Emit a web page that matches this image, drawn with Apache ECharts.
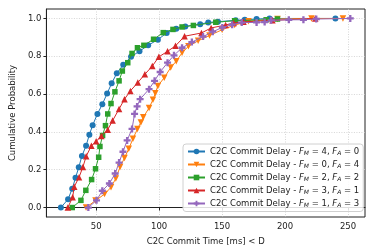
<!DOCTYPE html>
<html>
<head>
<meta charset="utf-8">
<script src="https://cdn.jsdelivr.net/npm/echarts@6/dist/echarts.min.js"></script>
<style>html,body{margin:0;padding:0;background:#fff;}#c{width:374px;height:251px;}</style>
</head>
<body>
<div id="c"></div>
<script>
// ---- data ----
const xTicks = [50, 100, 150, 200, 250];
const yTicks = [0, 0.2, 0.4, 0.6, 0.8, 1.0];

const seriesNames = [
  ['4', '0'],
  ['0', '4'],
  ['2', '2'],
  ['3', '1'],
  ['1', '3']
];

const blueX = [22, 27.7, 31, 33.6, 36.2, 38.7, 42, 44.6, 47.2, 51, 54.9, 58.7, 62.3, 66.4, 71.5, 77.7, 84.4, 91.3, 99, 106, 113.6, 120.8, 132.6, 139, 146.7, 160.8, 168, 177.4, 187.7, 240];
const blueY = [0, 0.044, 0.1, 0.157, 0.213, 0.273, 0.327, 0.385, 0.435, 0.495, 0.546, 0.603, 0.657, 0.71, 0.755, 0.797, 0.827, 0.858, 0.888, 0.923, 0.946, 0.958, 0.97, 0.979, 0.983, 0.99, 0.993, 0.997, 1.0, 1.0];

const orangeX = [42, 49.5, 56.7, 61.8, 65.6, 69, 72.5, 75.9, 79.2, 82.8, 85.5, 87.4, 92, 95.1, 97, 99, 104.1, 109.2, 113.6, 118.2, 123.3, 131, 140, 150, 160, 171, 194, 221, 246];
const orangeY = [0, 0.037, 0.071, 0.107, 0.154, 0.215, 0.262, 0.311, 0.364, 0.416, 0.45, 0.477, 0.527, 0.57, 0.605, 0.643, 0.687, 0.74, 0.774, 0.818, 0.853, 0.882, 0.91, 0.94, 0.965, 0.985, 0.997, 1.0, 1.0];

const greenX = [31, 37.9, 41.8, 46.4, 49.5, 52, 53, 55.1, 57.4, 59.2, 61.8, 64.9, 68.2, 70.8, 75.1, 78.5, 82.8, 87.9, 95.6, 103.3, 111, 118.2, 127.2, 145, 160, 185, 194];
const greenY = [0, 0.038, 0.091, 0.148, 0.205, 0.266, 0.323, 0.381, 0.433, 0.495, 0.55, 0.612, 0.67, 0.722, 0.766, 0.815, 0.845, 0.858, 0.89, 0.925, 0.942, 0.955, 0.963, 0.98, 0.988, 0.993, 0.997];

const redX = [27.5, 31.3, 32.6, 36.4, 39.5, 42.1, 46.2, 50, 54.1, 59.2, 63.1, 68.2, 72.5, 77.2, 83.1, 88.7, 94.6, 99.8, 106.7, 113, 120.2, 133.6, 141.3, 152.8, 159.2, 167, 190, 224];
const redY = [0, 0.054, 0.11, 0.16, 0.215, 0.271, 0.327, 0.35, 0.378, 0.412, 0.46, 0.521, 0.573, 0.617, 0.661, 0.705, 0.748, 0.797, 0.826, 0.855, 0.906, 0.923, 0.95, 0.965, 0.976, 0.982, 0.99, 1.0];

const purpleX = [43.8, 50.3, 54.9, 60.5, 65.1, 68.2, 71.3, 74.6, 78.5, 80.5, 82.5, 84.9, 92, 96.4, 100.8, 106.7, 111.8, 118.2, 126, 134.9, 142.6, 150.2, 158, 165.6, 177.4, 183.8, 189, 203, 214.6, 224.8, 251.8];
const purpleY = [0, 0.038, 0.089, 0.127, 0.18, 0.238, 0.295, 0.355, 0.416, 0.495, 0.535, 0.573, 0.626, 0.67, 0.717, 0.766, 0.805, 0.845, 0.875, 0.904, 0.93, 0.952, 0.967, 0.978, 0.979, 0.981, 0.99, 0.993, 0.993, 0.997, 1.0];

// ---- chart ----
const colors = ['#1f77b4', '#ff7f0e', '#2ca02c', '#d62728', '#9467bd'];
const plusPath = 'path://M-1,-3L1,-3L1,-1L3,-1L3,1L1,1L1,3L-1,3L-1,1L-3,1L-3,-1L-1,-1Z';
const symbols = ['circle', 'triangle', 'rect', 'triangle', plusPath];
const rotates = [0, 180, 0, 0, 0];
const sizes = [6, 6.5, 5.5, 6.5, 7];
const xs = [blueX, orangeX, greenX, redX, purpleX];
const ys = [blueY, orangeY, greenY, redY, purpleY];

function nameOf(i) {
  return 'C2C Commit Delay - F_M = ' + seriesNames[i][0] + ', F_A = ' + seriesNames[i][1];
}

const series = xs.map((xv, i) => ({
  name: nameOf(i),
  type: 'line',
  data: xv.map((x, k) => [x, ys[i][k]]),
  symbol: symbols[i],
  symbolRotate: rotates[i],
  symbolSize: sizes[i],
  showSymbol: true,
  clip: false,
  lineStyle: { width: 1, color: colors[i] },
  itemStyle: { color: colors[i] },
  z: 2 + i
}));

const font = 'DejaVu Sans';
const fs = 8.5;
const chart = echarts.init(document.getElementById('c'), null, { renderer: 'canvas' });
chart.setOption({
  animation: false,
  textStyle: { fontFamily: font },
  grid: {
    left: 37, right: 9, top: 9, bottom: 32,
    show: true, borderColor: '#222', borderWidth: 1, backgroundColor: 'transparent'
  },
  xAxis: {
    type: 'value',
    min: 10.5, max: 263.5,
    name: 'C2C Commit Time [ms] < D',
    nameLocation: 'middle',
    nameGap: 20,
    nameTextStyle: { fontFamily: font, fontSize: fs, color: '#222' },
    axisLine: { show: true, lineStyle: { color: '#222', width: 1 } },
    axisTick: { show: true, inside: false, length: 3, customValues: xTicks, lineStyle: { color: '#222' } },
    axisLabel: { customValues: xTicks, fontFamily: font, fontSize: fs, color: '#222', margin: 5 },
    splitLine: { show: true, lineStyle: { color: '#cccccc', type: [1, 1.5], width: 0.8 } }
  },
  yAxis: {
    type: 'value',
    min: -0.05, max: 1.05,
    name: 'Cumulative Probability',
    nameLocation: 'middle',
    nameGap: 24,
    nameTextStyle: { fontFamily: font, fontSize: fs, color: '#222' },
    axisLine: { show: true, lineStyle: { color: '#222', width: 1 } },
    axisTick: { show: true, inside: false, length: 3, customValues: yTicks, lineStyle: { color: '#222' } },
    axisLabel: { customValues: yTicks, fontFamily: font, fontSize: fs, color: '#222', margin: 5,
      formatter: v => v.toFixed(1) },
    splitLine: { show: true, lineStyle: { color: '#cccccc', type: [1, 1.5], width: 0.8 } }
  },
  legend: {
    orient: 'vertical',
    left: 183, top: 144,
    itemWidth: 17, itemHeight: 7,
    itemGap: 3.5,
    padding: [3, 4, 3, 4],
    borderColor: '#d0d0d0', borderWidth: 1, borderRadius: 3,
    backgroundColor: 'rgba(255,255,255,0.85)',
    formatter: function (name) {
      const m = name.match(/F_M = (\d+), F_A = (\d+)/);
      return '{n|C2C Commit Delay - }{i|F}{s|M}{n| = ' + m[1] + ', }{i|F}{s|A}{n| = ' + m[2] + '}';
    },
    textStyle: {
      fontFamily: font, fontSize: fs, color: '#222',
      rich: {
        n: { fontFamily: font, fontSize: fs, color: '#222' },
        i: { fontFamily: font, fontSize: fs, fontStyle: 'italic', color: '#222' },
        s: { fontFamily: font, fontSize: 6, fontStyle: 'italic', color: '#222', padding: [4, 0, 0, 0] }
      }
    },
    data: series.map(s => s.name)
  },
  series: series
});
</script>
</body>
</html>
